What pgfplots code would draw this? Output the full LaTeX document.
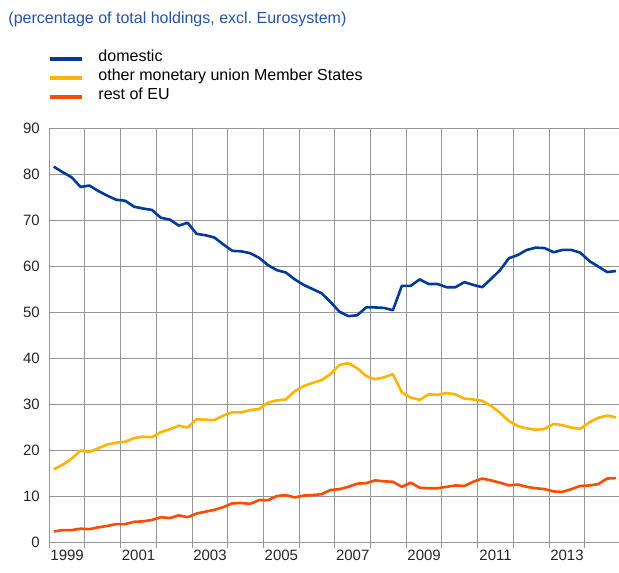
\documentclass[border=0pt]{standalone}
\usepackage{fontspec}
\setmainfont{Liberation Sans}
\usepackage{pgfplots}
\usepackage{pgfplotstable}
\pgfplotsset{compat=1.18}
\definecolor{ecbblue}{RGB}{0,58,150}
\definecolor{ecbyellow}{RGB}{255,180,0}
\definecolor{ecborange}{RGB}{255,75,0}
\definecolor{titleblue}{RGB}{35,85,165}
\definecolor{gridgray}{RGB}{150,150,150}

% quarterly shares, 1999Q1 - 2014Q4
\pgfplotstableread{
x        dom   oth   eu
1999.125 81.7 15.9 2.4
1999.375 80.5 16.9 2.7
1999.625 79.4 18.2 2.7
1999.875 77.3 20.0 3.0
2000.125 77.6 19.7 2.9
2000.375 76.4 20.5 3.3
2000.625 75.4 21.3 3.6
2000.875 74.5 21.7 4.0
2001.125 74.3 21.9 4.0
2001.375 73.0 22.7 4.5
2001.625 72.6 23.0 4.6
2001.875 72.3 22.9 4.9
2002.125 70.6 24.0 5.5
2002.375 70.2 24.6 5.3
2002.625 68.9 25.4 5.9
2002.875 69.5 25.0 5.5
2003.125 67.1 26.8 6.3
2003.375 66.8 26.7 6.7
2003.625 66.3 26.6 7.1
2003.875 64.8 27.6 7.7
2004.125 63.4 28.3 8.5
2004.375 63.3 28.3 8.6
2004.625 62.9 28.8 8.4
2004.875 61.9 29.0 9.2
2005.125 60.3 30.4 9.2
2005.375 59.2 30.9 10.1
2005.625 58.7 31.1 10.3
2005.875 57.2 32.9 9.8
2006.125 56.0 34.0 10.2
2006.375 55.1 34.7 10.3
2006.625 54.2 35.3 10.5
2006.875 52.3 36.6 11.4
2007.125 50.2 38.6 11.6
2007.375 49.2 39.0 12.1
2007.625 49.4 37.9 12.8
2007.875 51.1 36.2 12.9
2008.125 51.1 35.5 13.5
2008.375 51.0 35.9 13.3
2008.625 50.5 36.6 13.2
2008.875 55.8 32.6 12.1
2009.125 55.8 31.5 13.0
2009.375 57.2 31.0 11.9
2009.625 56.2 32.2 11.8
2009.875 56.2 32.1 11.8
2010.125 55.5 32.5 12.1
2010.375 55.5 32.2 12.4
2010.625 56.6 31.3 12.3
2010.875 56.0 31.1 13.2
2011.125 55.5 30.8 13.9
2011.375 57.3 29.7 13.5
2011.625 59.2 28.2 13.0
2011.875 61.8 26.4 12.4
2012.125 62.5 25.3 12.6
2012.375 63.6 24.8 12.1
2012.625 64.1 24.5 11.8
2012.875 64.0 24.7 11.6
2013.125 63.1 25.8 11.1
2013.375 63.6 25.5 11.0
2013.625 63.6 25.0 11.6
2013.875 63.0 24.7 12.3
2014.125 61.2 26.1 12.4
2014.375 60.0 27.1 12.7
2014.625 58.8 27.6 13.9
2014.875 59.0 27.2 14.0
}\holdings

\begin{document}
\begin{tikzpicture}[x=1pt,y=1pt]
\path[use as bounding box] (0,0) rectangle (619,573);
\node[anchor=base west, inner sep=0pt, text=titleblue, font=\fontsize{16}{19}\selectfont]
  at (8.3,549.6) {(percentage of total holdings, excl.\ Eurosystem)};
\begin{axis}[
  at={(49.3pt,30.5pt)}, anchor=south west,
  scale only axis, width=571.2pt, height=414pt,
  xmin=1999, xmax=2015, ymin=0, ymax=90,
  /pgf/number format/assume math mode=true,
  axis lines=left, axis line style={draw=gridgray, line width=1pt, -},
  xtick={1999,...,2015}, xticklabels={},
  ytick={0,10,...,90},
  tick align=outside, major tick length=6pt,
  x tick style={draw=gridgray, line width=1pt},
  y tick style={draw=none},
  grid=major, major grid style={draw=gridgray, line width=1pt},
  yticklabel style={font=\fontsize{15}{18}\selectfont, text=black!85},
  extra x ticks={1999.5,2001.5,2003.5,2005.5,2007.5,2009.5,2011.5,2013.5},
  extra x tick labels={1999,2001,2003,2005,2007,2009,2011,2013},
  extra x tick style={grid=none, major tick length=0pt,
    xticklabel style={font=\fontsize{15}{18}\selectfont, text=black!85, yshift=-4pt}},
  legend cell align=left,
  legend style={at={(axis description cs:0,1.191)}, anchor=north west, xshift=-1.5pt,
    draw=none, fill=none, inner sep=0pt, row sep=0pt, column sep=15pt,
    nodes={inner sep=0pt, text height=12pt, text depth=7pt,
      font=\fontsize{16}{19}\selectfont}},
  legend image code/.code={\draw[#1, line width=3.5pt] (0pt,0pt) -- (32pt,0pt);},
]
\addplot[ecbblue, line width=2.6pt, line join=round] table[x=x, y=dom] {\holdings};
\addlegendentry{domestic}
\addplot[ecbyellow, line width=2.6pt, line join=round] table[x=x, y=oth] {\holdings};
\addlegendentry{other monetary union Member States}
\addplot[ecborange, line width=2.6pt, line join=round] table[x=x, y=eu] {\holdings};
\addlegendentry{rest of EU}
\end{axis}
\end{tikzpicture}
\end{document}
